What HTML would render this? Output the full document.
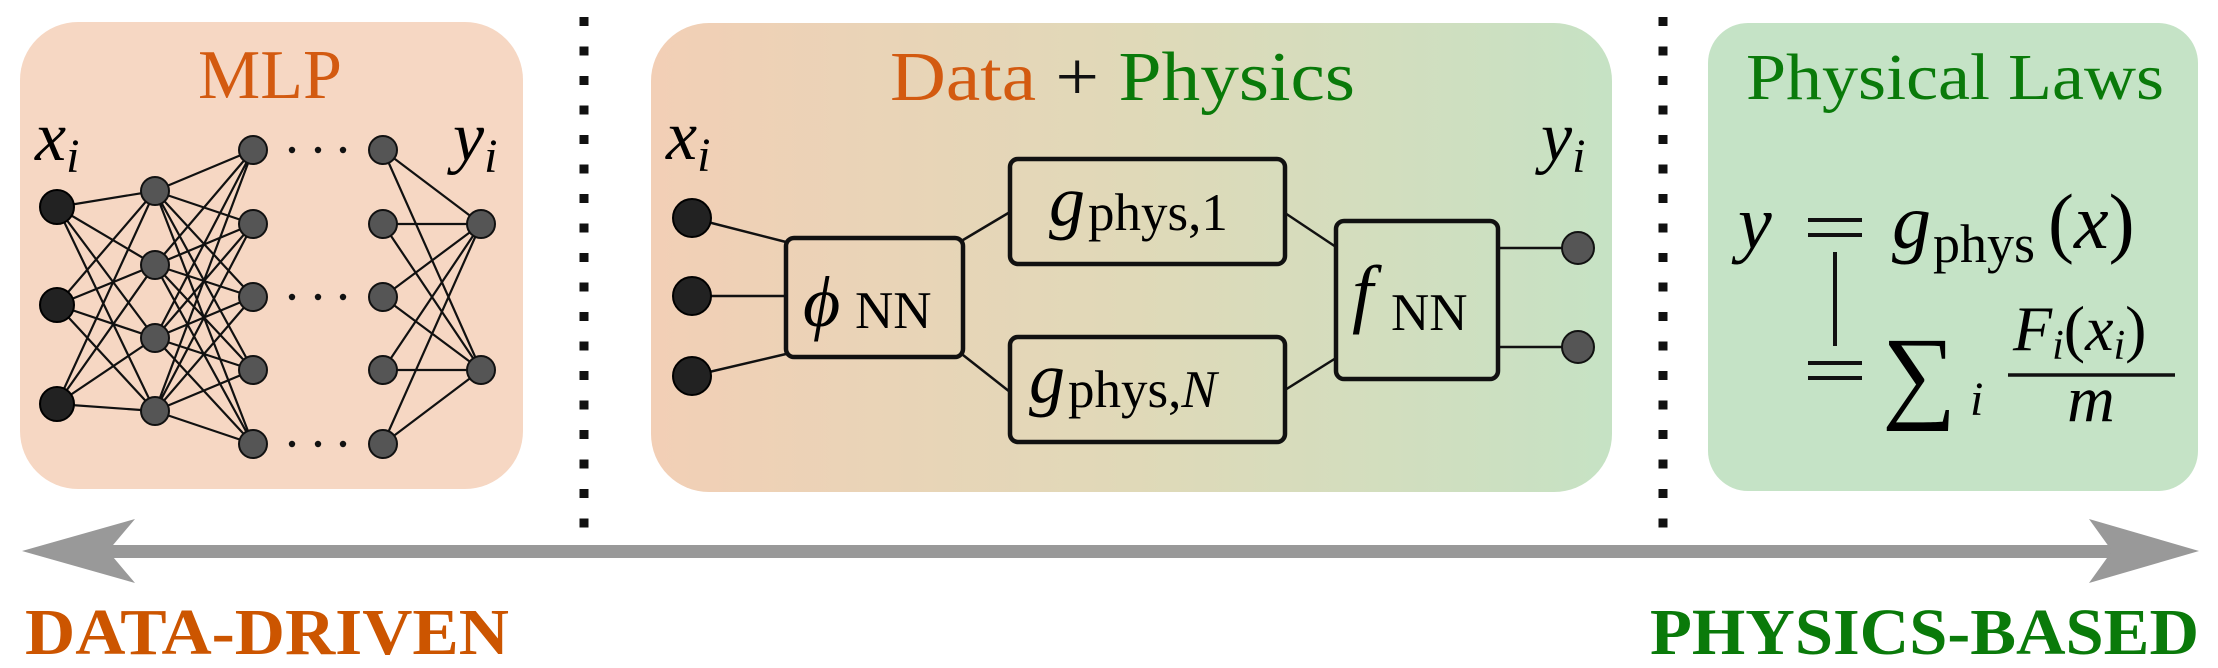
<!DOCTYPE html>
<html><head><meta charset="utf-8"><style>
html,body{margin:0;padding:0;background:#fff}
svg{display:block}
text{font-family:"Liberation Serif","DejaVu Serif",serif}
.it{font-style:italic}
</style></head><body>
<svg width="2218" height="668" viewBox="0 0 2218 668" xmlns="http://www.w3.org/2000/svg">
<defs>
<linearGradient id="mg" x1="0" x2="1" y1="0" y2="0">
<stop offset="0" stop-color="#f2cfb6"/><stop offset="0.5" stop-color="#e0d9b8"/><stop offset="1" stop-color="#c6e2c4"/>
</linearGradient>
</defs>
<rect x="20" y="22" width="503" height="467" rx="58" fill="#f6d7c3"/>
<rect x="651" y="23" width="961" height="469" rx="58" fill="url(#mg)"/>
<rect x="1708" y="23" width="490" height="468" rx="40" fill="#c5e3c6"/>
<line x1="584" y1="17" x2="584" y2="528" stroke="#111" stroke-width="9" stroke-dasharray="9 20.5"/>
<line x1="1663" y1="17" x2="1663" y2="528" stroke="#111" stroke-width="9" stroke-dasharray="9 20.5"/>
<rect x="100" y="545" width="2020" height="13" fill="#999"/>
<polygon points="22,551 135,519 108,551 135,583" fill="#999"/>
<polygon points="2199,551 2089,519 2112,551 2089,583" fill="#999"/>
<text x="25" y="654" font-size="66" font-weight="bold" fill="#cc5500" textLength="484" lengthAdjust="spacingAndGlyphs">DATA-DRIVEN</text>
<text x="1650" y="654" font-size="66" font-weight="bold" fill="#0a7a0a" textLength="549" lengthAdjust="spacingAndGlyphs">PHYSICS-BASED</text>

<text x="270" y="98" font-size="70" fill="#d35a10" text-anchor="middle">MLP</text>
<text x="35" y="160" font-size="70" class="it">x<tspan font-size="48" dy="12">i</tspan></text>
<text x="453" y="160" font-size="70" class="it">y<tspan font-size="48" dy="12">i</tspan></text>
<path stroke="#111" stroke-width="2.2" fill="none" d="
M57 207L155 191M57 207L155 265M57 207L155 338M57 207L155 411
M57 305L155 191M57 305L155 265M57 305L155 338M57 305L155 411
M57 404L155 191M57 404L155 265M57 404L155 338M57 404L155 411
M155 191L253 150M155 191L253 224M155 191L253 297M155 191L253 370M155 191L253 444
M155 265L253 150M155 265L253 224M155 265L253 297M155 265L253 370M155 265L253 444
M155 338L253 150M155 338L253 224M155 338L253 297M155 338L253 370M155 338L253 444
M155 411L253 150M155 411L253 224M155 411L253 297M155 411L253 370M155 411L253 444
M383 150L481 224M383 150L481 370M383 224L481 224M383 224L481 370
M383 297L481 224M383 297L481 370M383 370L481 224M383 370L481 370
M383 444L481 224M383 444L481 370"/>
<g fill="#222" stroke="#000" stroke-width="2">
<circle cx="57" cy="207" r="17"/><circle cx="57" cy="305" r="17"/><circle cx="57" cy="404" r="17"/>
</g>
<g fill="#555" stroke="#111" stroke-width="2">
<circle cx="155" cy="191" r="14"/><circle cx="155" cy="265" r="14"/><circle cx="155" cy="338" r="14"/><circle cx="155" cy="411" r="14"/>
<circle cx="253" cy="150" r="14"/><circle cx="253" cy="224" r="14"/><circle cx="253" cy="297" r="14"/><circle cx="253" cy="370" r="14"/><circle cx="253" cy="444" r="14"/>
<circle cx="383" cy="150" r="14"/><circle cx="383" cy="224" r="14"/><circle cx="383" cy="297" r="14"/><circle cx="383" cy="370" r="14"/><circle cx="383" cy="444" r="14"/>
<circle cx="481" cy="224" r="14"/><circle cx="481" cy="370" r="14"/>
</g>
<g fill="#111">
<circle cx="292" cy="150" r="3.2"/><circle cx="318" cy="150" r="3.2"/><circle cx="343" cy="150" r="3.2"/>
<circle cx="292" cy="297" r="3.2"/><circle cx="318" cy="297" r="3.2"/><circle cx="343" cy="297" r="3.2"/>
<circle cx="292" cy="444" r="3.2"/><circle cx="318" cy="444" r="3.2"/><circle cx="343" cy="444" r="3.2"/>
</g>

<text x="890" y="100" font-size="70" textLength="465" lengthAdjust="spacingAndGlyphs"><tspan fill="#d35a10">Data</tspan> <tspan fill="#111">+</tspan> <tspan fill="#0a7a0a">Physics</tspan></text>
<text x="666" y="159" font-size="70" class="it">x<tspan font-size="48" dy="12">i</tspan></text>
<text x="1541" y="160" font-size="70" class="it">y<tspan font-size="48" dy="12">i</tspan></text>
<path stroke="#111" stroke-width="2.5" fill="none" d="
M692 218L786 242M692 296L786 296M692 376L786 354
M963 240L1010 212M963 355L1010 392
M1285 213L1336 247M1285 390L1336 358
M1498 248L1578 248M1498 347L1578 347"/>
<g fill="#222" stroke="#000" stroke-width="2">
<circle cx="692" cy="218" r="19"/><circle cx="692" cy="296" r="19"/><circle cx="692" cy="376" r="19"/>
</g>
<g fill="#555" stroke="#111" stroke-width="2">
<circle cx="1578" cy="248" r="16"/><circle cx="1578" cy="347" r="16"/>
</g>
<g fill="none" stroke="#111" stroke-width="4.5">
<rect x="786" y="238" width="177" height="119" rx="8"/>
<rect x="1010" y="159" width="275" height="105" rx="8"/>
<rect x="1010" y="337" width="275" height="105" rx="8"/>
<rect x="1336" y="221" width="162" height="158" rx="8"/>
</g>
<text x="803" y="326" font-size="72" class="it">ϕ</text>
<text x="855" y="328" font-size="53">NN</text>
<text x="1049" y="225" font-size="72" class="it">g</text>
<text x="1088" y="230" font-size="53">phys,1</text>
<text x="1029" y="402" font-size="72" class="it">g</text>
<text x="1068" y="407" font-size="53">phys,<tspan class="it">N</tspan></text>
<text x="1352" y="318" font-size="76" class="it">f</text>
<text x="1391" y="330" font-size="53">NN</text>

<text x="1746" y="99" font-size="66" fill="#0a7a0a" textLength="418" lengthAdjust="spacingAndGlyphs">Physical Laws</text>
<text x="1738" y="248" font-size="76" class="it">y</text>
<g stroke="#111" stroke-width="4">
<line x1="1808" y1="220" x2="1862" y2="220"/><line x1="1808" y1="235" x2="1862" y2="235"/>
<line x1="1835" y1="252" x2="1835" y2="346"/>
<line x1="1808" y1="363" x2="1862" y2="363"/><line x1="1808" y1="378" x2="1862" y2="378"/>
<line x1="2008" y1="375" x2="2175" y2="375" stroke-width="3.5"/>
</g>
<text x="1892" y="248" font-size="78" class="it">g</text>
<text x="1933" y="262" font-size="54">phys</text>
<text x="2048" y="248" font-size="78">(<tspan class="it">x</tspan>)</text>
<text x="1882" y="409" font-size="104" font-family="DejaVu Serif, serif">∑</text>
<text x="1970" y="415" font-size="48" class="it">i</text>
<text x="2013" y="350" font-size="64"><tspan class="it">F</tspan><tspan class="it" font-size="42" dy="9">i</tspan><tspan dy="-9">(</tspan><tspan class="it">x</tspan><tspan class="it" font-size="42" dy="9">i</tspan><tspan dy="-9">)</tspan></text>
<text x="2091" y="421" font-size="66" class="it" text-anchor="middle">m</text>
</svg>
</body></html>
